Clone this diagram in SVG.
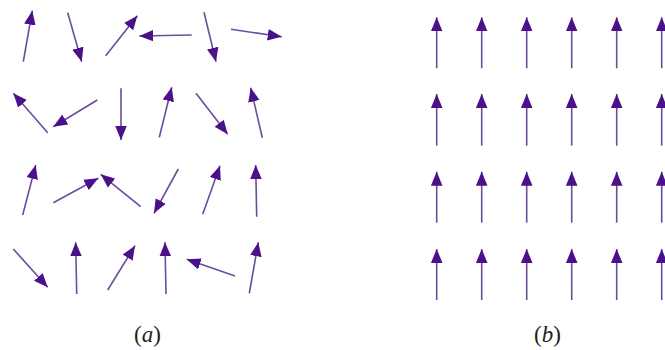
<svg xmlns="http://www.w3.org/2000/svg" width="665" height="350" viewBox="0 0 665 350">
  <style>
    .spin { stroke: #6b4c9c; stroke-width: 1.6; fill: none; marker-end: url(#head); }
    .label { font-family: "Liberation Serif", "DejaVu Serif", serif; font-size: 23px; fill: #222; text-anchor: middle; }
    .label tspan.v { font-style: italic; }
  </style>
  <defs>
    <marker id="head" viewBox="0 -6 15 12" refX="14" refY="0" markerWidth="15" markerHeight="12" markerUnits="userSpaceOnUse" orient="auto">
      <path d="M0,-5.8 L14,0 L0,5.8 Z" fill="#4a118a"/>
    </marker>
  </defs>
  <rect width="665" height="350" fill="#ffffff"/>

  <!-- (a) disordered spins -->
  <g id="panel-a">
    <line class="spin" x1="23.3" y1="61.7" x2="32.3" y2="10.7"/>
    <line class="spin" x1="67.7" y1="12.7" x2="81.7" y2="61.7"/>
    <line class="spin" x1="105.7" y1="55.7" x2="137.3" y2="15.7"/>
    <line class="spin" x1="191.7" y1="35" x2="139.3" y2="36"/>
    <line class="spin" x1="204" y1="12.3" x2="216" y2="61.7"/>
    <line class="spin" x1="231" y1="29.3" x2="281.7" y2="36.7"/>

    <line class="spin" x1="47.7" y1="132.7" x2="13.3" y2="93.3"/>
    <line class="spin" x1="97.3" y1="100" x2="53.3" y2="126.7"/>
    <line class="spin" x1="121" y1="88.3" x2="121" y2="140"/>
    <line class="spin" x1="159.3" y1="137.3" x2="171.7" y2="87.3"/>
    <line class="spin" x1="196" y1="93.3" x2="227.7" y2="134.3"/>
    <line class="spin" x1="262.3" y1="137.7" x2="250.7" y2="87.7"/>

    <line class="spin" x1="22.7" y1="215" x2="35.7" y2="165"/>
    <line class="spin" x1="53.3" y1="202.7" x2="98.3" y2="178.3"/>
    <line class="spin" x1="140.7" y1="206.7" x2="100.7" y2="174.3"/>
    <line class="spin" x1="178.3" y1="169" x2="154" y2="213.3"/>
    <line class="spin" x1="202.7" y1="214.3" x2="220" y2="165.7"/>
    <line class="spin" x1="256.7" y1="216.7" x2="255.7" y2="165"/>

    <line class="spin" x1="13.3" y1="249" x2="47.7" y2="287.3"/>
    <line class="spin" x1="76.7" y1="294" x2="75.7" y2="242.3"/>
    <line class="spin" x1="107.7" y1="290" x2="135" y2="245.7"/>
    <line class="spin" x1="166" y1="294" x2="165" y2="242.3"/>
    <line class="spin" x1="235" y1="276" x2="186.7" y2="259.3"/>
    <line class="spin" x1="249.3" y1="293.3" x2="258.3" y2="242.3"/>
  </g>

  <!-- (b) aligned spins -->
  <g id="panel-b">
    <line class="spin" x1="436.7" y1="68.3" x2="436.7" y2="17.3"/>
    <line class="spin" x1="481.7" y1="68.3" x2="481.7" y2="17.3"/>
    <line class="spin" x1="526.7" y1="68.3" x2="526.7" y2="17.3"/>
    <line class="spin" x1="571.7" y1="68.3" x2="571.7" y2="17.3"/>
    <line class="spin" x1="616.7" y1="68.3" x2="616.7" y2="17.3"/>
    <line class="spin" x1="661.7" y1="68.3" x2="661.7" y2="17.3"/>

    <line class="spin" x1="436.7" y1="145.7" x2="436.7" y2="94"/>
    <line class="spin" x1="481.7" y1="145.7" x2="481.7" y2="94"/>
    <line class="spin" x1="526.7" y1="145.7" x2="526.7" y2="94"/>
    <line class="spin" x1="571.7" y1="145.7" x2="571.7" y2="94"/>
    <line class="spin" x1="616.7" y1="145.7" x2="616.7" y2="94"/>
    <line class="spin" x1="661.7" y1="145.7" x2="661.7" y2="94"/>

    <line class="spin" x1="436.7" y1="222.7" x2="436.7" y2="171.7"/>
    <line class="spin" x1="481.7" y1="222.7" x2="481.7" y2="171.7"/>
    <line class="spin" x1="526.7" y1="222.7" x2="526.7" y2="171.7"/>
    <line class="spin" x1="571.7" y1="222.7" x2="571.7" y2="171.7"/>
    <line class="spin" x1="616.7" y1="222.7" x2="616.7" y2="171.7"/>
    <line class="spin" x1="661.7" y1="222.7" x2="661.7" y2="171.7"/>

    <line class="spin" x1="436.7" y1="300" x2="436.7" y2="249"/>
    <line class="spin" x1="481.7" y1="300" x2="481.7" y2="249"/>
    <line class="spin" x1="526.7" y1="300" x2="526.7" y2="249"/>
    <line class="spin" x1="571.7" y1="300" x2="571.7" y2="249"/>
    <line class="spin" x1="616.7" y1="300" x2="616.7" y2="249"/>
    <line class="spin" x1="661.7" y1="300" x2="661.7" y2="249"/>
  </g>

  <g id="labels">
    <text class="label" x="147.5" y="342">(<tspan class="v">a</tspan>)</text>
    <text class="label" x="547.5" y="342">(<tspan class="v">b</tspan>)</text>
  </g>
</svg>
